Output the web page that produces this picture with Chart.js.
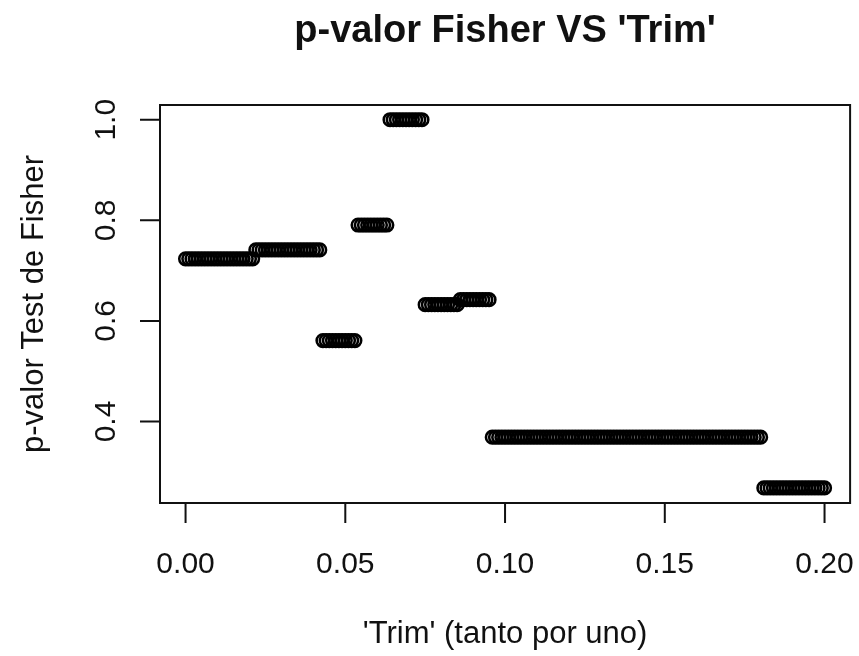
<!DOCTYPE html>
<html>
<head>
<meta charset="utf-8">
<script src="https://cdn.jsdelivr.net/npm/chart.js@4"></script>
<style>
  html, body { margin: 0; padding: 0; background: #ffffff; }
  canvas { display: block; }
</style>
</head>
<body>
<canvas id="c" width="859" height="656"></canvas>
<script>
// ---- data ----
const trim = [
  0.000,0.001,0.002,0.003,0.004,0.005,0.006,0.007,0.008,0.009,
  0.010,0.011,0.012,0.013,0.014,0.015,0.016,0.017,0.018,0.019,
  0.020,0.021,0.022,0.023,0.024,0.025,0.026,0.027,0.028,0.029,
  0.030,0.031,0.032,0.033,0.034,0.035,0.036,0.037,0.038,0.039,
  0.040,0.041,0.042,0.043,0.044,0.045,0.046,0.047,0.048,0.049,
  0.050,0.051,0.052,0.053,0.054,0.055,0.056,0.057,0.058,0.059,
  0.060,0.061,0.062,0.063,0.064,0.065,0.066,0.067,0.068,0.069,
  0.070,0.071,0.072,0.073,0.074,0.075,0.076,0.077,0.078,0.079,
  0.080,0.081,0.082,0.083,0.084,0.085,0.086,0.087,0.088,0.089,
  0.090,0.091,0.092,0.093,0.094,0.095,0.096,0.097,0.098,0.099,
  0.100,0.101,0.102,0.103,0.104,0.105,0.106,0.107,0.108,0.109,
  0.110,0.111,0.112,0.113,0.114,0.115,0.116,0.117,0.118,0.119,
  0.120,0.121,0.122,0.123,0.124,0.125,0.126,0.127,0.128,0.129,
  0.130,0.131,0.132,0.133,0.134,0.135,0.136,0.137,0.138,0.139,
  0.140,0.141,0.142,0.143,0.144,0.145,0.146,0.147,0.148,0.149,
  0.150,0.151,0.152,0.153,0.154,0.155,0.156,0.157,0.158,0.159,
  0.160,0.161,0.162,0.163,0.164,0.165,0.166,0.167,0.168,0.169,
  0.170,0.171,0.172,0.173,0.174,0.175,0.176,0.177,0.178,0.179,
  0.180,0.181,0.182,0.183,0.184,0.185,0.186,0.187,0.188,0.189,
  0.190,0.191,0.192,0.193,0.194,0.195,0.196,0.197,0.198,0.199,
  0.200
];
const pValue = [
  0.7234,0.7234,0.7234,0.7234,0.7234,0.7234,0.7234,0.7234,0.7234,0.7234,
  0.7234,0.7234,0.7234,0.7234,0.7234,0.7234,0.7234,0.7234,0.7234,0.7234,
  0.7234,0.7234,0.7412,0.7412,0.7412,0.7412,0.7412,0.7412,0.7412,0.7412,
  0.7412,0.7412,0.7412,0.7412,0.7412,0.7412,0.7412,0.7412,0.7412,0.7412,
  0.7412,0.7412,0.7412,0.5610,0.5610,0.5610,0.5610,0.5610,0.5610,0.5610,
  0.5610,0.5610,0.5610,0.5610,0.7907,0.7907,0.7907,0.7907,0.7907,0.7907,
  0.7907,0.7907,0.7907,0.7907,1.0000,1.0000,1.0000,1.0000,1.0000,1.0000,
  1.0000,1.0000,1.0000,1.0000,1.0000,0.6323,0.6323,0.6323,0.6323,0.6323,
  0.6323,0.6323,0.6323,0.6323,0.6323,0.6323,0.6422,0.6422,0.6422,0.6422,
  0.6422,0.6422,0.6422,0.6422,0.6422,0.6422,0.3689,0.3689,0.3689,0.3689,
  0.3689,0.3689,0.3689,0.3689,0.3689,0.3689,0.3689,0.3689,0.3689,0.3689,
  0.3689,0.3689,0.3689,0.3689,0.3689,0.3689,0.3689,0.3689,0.3689,0.3689,
  0.3689,0.3689,0.3689,0.3689,0.3689,0.3689,0.3689,0.3689,0.3689,0.3689,
  0.3689,0.3689,0.3689,0.3689,0.3689,0.3689,0.3689,0.3689,0.3689,0.3689,
  0.3689,0.3689,0.3689,0.3689,0.3689,0.3689,0.3689,0.3689,0.3689,0.3689,
  0.3689,0.3689,0.3689,0.3689,0.3689,0.3689,0.3689,0.3689,0.3689,0.3689,
  0.3689,0.3689,0.3689,0.3689,0.3689,0.3689,0.3689,0.3689,0.3689,0.3689,
  0.3689,0.3689,0.3689,0.3689,0.3689,0.3689,0.3689,0.3689,0.3689,0.3689,
  0.3689,0.2679,0.2679,0.2679,0.2679,0.2679,0.2679,0.2679,0.2679,0.2679,
  0.2679,0.2679,0.2679,0.2679,0.2679,0.2679,0.2679,0.2679,0.2679,0.2679,
  0.2679
];
const xTicks = [0, 0.05, 0.10, 0.15, 0.20];
const xTickLabels = ["0.00", "0.05", "0.10", "0.15", "0.20"];
const yTicks = [0.4, 0.6, 0.8, 1.0];
const yTickLabels = ["0.4", "0.6", "0.8", "1.0"];
const titleText = "p-valor Fisher VS 'Trim'";
const xTitle = "'Trim' (tanto por uno)";
const yTitle = "p-valor Test de Fisher";

// ---- chart ----
const points = trim.map((x, i) => ({ x: x, y: pValue[i] }));
const FONT = "'Liberation Sans', Arial, Helvetica, sans-serif";
const INK = "#111111";

const rAxes = {
  id: 'rAxes',
  afterDraw(chart) {
    const ctx = chart.ctx;
    const a = chart.chartArea;
    const xs = chart.scales.x, ys = chart.scales.y;
    ctx.save();
    ctx.strokeStyle = INK;
    ctx.lineWidth = 2;
    // box
    ctx.strokeRect(a.left, a.top, a.right - a.left, a.bottom - a.top);
    // x axis
    const x0 = xs.getPixelForValue(xTicks[0]);
    const x1 = xs.getPixelForValue(xTicks[xTicks.length - 1]);
    ctx.beginPath();
    ctx.moveTo(x0, a.bottom); ctx.lineTo(x1, a.bottom);
    xTicks.forEach(v => {
      const px = xs.getPixelForValue(v);
      ctx.moveTo(px, a.bottom); ctx.lineTo(px, a.bottom + 20);
    });
    // y axis
    const y0 = ys.getPixelForValue(yTicks[0]);
    const y1 = ys.getPixelForValue(yTicks[yTicks.length - 1]);
    ctx.moveTo(a.left, y0); ctx.lineTo(a.left, y1);
    yTicks.forEach(v => {
      const py = ys.getPixelForValue(v);
      ctx.moveTo(a.left, py); ctx.lineTo(a.left - 20, py);
    });
    ctx.stroke();

    ctx.fillStyle = INK;
    // x tick labels
    ctx.font = "30px " + FONT;
    ctx.textAlign = "center";
    ctx.textBaseline = "alphabetic";
    xTicks.forEach((v, i) => {
      ctx.fillText(xTickLabels[i], xs.getPixelForValue(v), 573);
    });
    // y tick labels (rotated)
    yTicks.forEach((v, i) => {
      ctx.save();
      ctx.translate(115, ys.getPixelForValue(v));
      ctx.rotate(-Math.PI / 2);
      ctx.fillText(yTickLabels[i], 0, 0);
      ctx.restore();
    });
    // axis titles
    const cx = (a.left + a.right) / 2;
    const cy = (a.top + a.bottom) / 2;
    ctx.font = "31px " + FONT;
    ctx.fillText(xTitle, cx, 643);
    ctx.save();
    ctx.translate(43, cy);
    ctx.rotate(-Math.PI / 2);
    ctx.fillText(yTitle, 0, 0);
    ctx.restore();
    // main title
    ctx.font = "bold 38px " + FONT;
    ctx.fillText(titleText, cx, 42);
    ctx.restore();
  }
};

new Chart(document.getElementById('c'), {
  type: 'scatter',
  data: {
    datasets: [{
      data: points,
      pointStyle: 'circle',
      pointRadius: 6.3,
      pointHoverRadius: 6.3,
      borderColor: '#000000',
      backgroundColor: 'rgba(0,0,0,0)',
      pointBorderWidth: 2.6,
      borderWidth: 2.6
    }]
  },
  options: {
    responsive: false,
    animation: false,
    devicePixelRatio: 1,
    layout: { padding: { left: 160, right: 7, top: 105, bottom: 153 } },
    plugins: { legend: { display: false }, tooltip: { enabled: false }, title: { display: false } },
    scales: {
      x: { type: 'linear', display: false, min: -0.008, max: 0.208 },
      y: { type: 'linear', display: false, min: 0.238, max: 1.0293 }
    }
  },
  plugins: [rAxes]
});
</script>
</body>
</html>
